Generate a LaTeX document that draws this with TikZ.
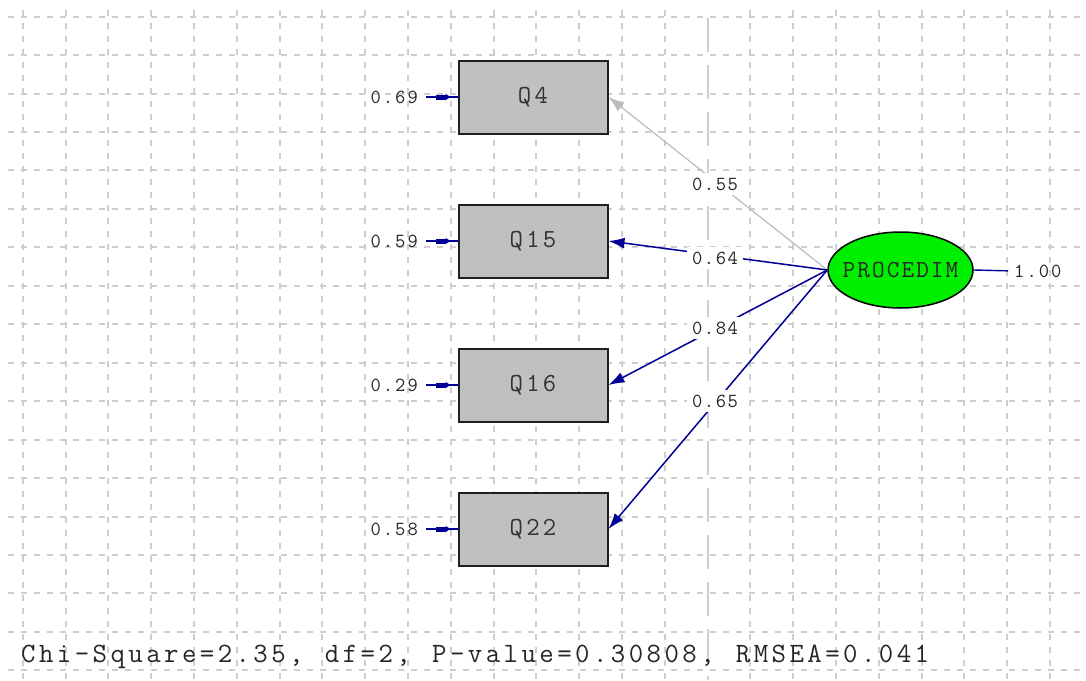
\documentclass[tikz,border=0pt]{standalone}
\usepackage{fontspec}
\usetikzlibrary{shapes.geometric,arrows.meta}
\definecolor{gridc}{RGB}{206,206,206}
\definecolor{boxfill}{RGB}{192,192,192}
\definecolor{navyc}{RGB}{0,0,150}
\definecolor{lgray}{RGB}{188,188,188}
\definecolor{latgreen}{RGB}{0,238,0}
\newcommand{\monosz}[1]{\ttfamily\fontsize{#1}{#1}\selectfont}
% letter-spaced text: kern between characters (use ~ for spaces)
\newdimen\lskern
\def\lsend{\lsend}
\def\lstext#1#2{\lskern=#1\relax\lsfirst#2\lsend}
\def\lsfirst#1{#1\lsloop}
\def\lsloop#1{\ifx\lsend#1\else\kern\lskern#1\expandafter\lsloop\fi}
\begin{document}
\begin{tikzpicture}[x=1pt,y=-1pt,
  gridline/.style={draw=gridc, line width=2pt, dash pattern=on 6pt off 7pt},
  centerline/.style={draw=gridc, line width=2pt, dash pattern=on 34pt off 13pt},
  obs/.style={draw=black!88, line width=2pt, fill=boxfill, minimum width=149pt, minimum height=73pt, inner sep=0pt, font=\monosz{26}, text=black!80},
  lat/.style={ellipse, draw=black, line width=1.5pt, fill=latgreen, minimum width=145pt, minimum height=76pt, inner xsep=-9pt, inner ysep=0pt, font=\monosz{24.5}, text=black!85},
  lab/.style={inner sep=0pt, font=\monosz{20}, text=black!85},
  loadlab/.style={lab, fill=white, inner sep=5pt},
  load/.style={draw=navyc, line width=1.5pt, -{Latex[length=16pt,width=11pt]}},
  loadgray/.style={draw=lgray, line width=1.2pt, -{Latex[length=16pt,width=11pt]}},
  errline/.style={draw=navyc, line width=1.4pt, shorten <=8pt},
  errhead/.style={draw=navyc, line width=5pt, shorten <=18pt, shorten >=7pt, -{Triangle[length=5pt,width=6pt]}},
  fitlab/.style={inner sep=0pt, anchor=base west, font=\monosz{28}, text=black!85}
]
\useasboundingbox (0,0) rectangle (1086,680);
\fill[white] (0,0) rectangle (1086,680);
% grid
\foreach \j in {0,...,17} \draw[gridline] (8,{round(16.7+38.45*\j)}) -- (1086,{round(16.7+38.45*\j)});
\foreach \k in {0,...,24} {\ifnum\k=16\relax\else\draw[gridline] ({round(22.7+42.8*\k)},10) -- ({round(22.7+42.8*\k)},680);\fi}
\draw[centerline] (708,18) -- (708,680);
% observed variables
\node[obs] (Q4)  at (533,97)  {\lstext{3.3pt}{Q4}};
\node[obs] (Q15) at (533,241) {\lstext{3.3pt}{Q15}};
\node[obs] (Q16) at (533,385) {\lstext{3.3pt}{Q16}};
\node[obs] (Q22) at (533,529) {\lstext{3.3pt}{Q22}};
% latent
\node[lat] (P) at (900.5,270) {\lstext{2.1pt}{PROCEDIM}};
% loadings
\draw[loadgray] (P.west) -- (Q4.east);
\draw[load] (P.west) -- (Q15.east);
\draw[load] (P.west) -- (Q16.east);
\draw[load] (P.west) -- (Q22.east);
\node[loadlab] (l4)  at (715,184) {\lstext{1.6pt}{0.55}};
\node[loadlab] (l15) at (715,258) {\lstext{1.6pt}{0.64}};
\node[loadlab] (l16) at (715,328) {\lstext{1.6pt}{0.84}};
\node[loadlab] (l22) at (715,401) {\lstext{1.6pt}{0.65}};
% error variances
\node[lab, anchor=east] (e4)  at (418,97)  {\lstext{2pt}{0.69}};
\node[lab, anchor=east] (e15) at (418,241) {\lstext{2pt}{0.59}};
\node[lab, anchor=east] (e16) at (418,385) {\lstext{2pt}{0.29}};
\node[lab, anchor=east] (e22) at (418,529) {\lstext{2pt}{0.58}};
\foreach \e/\q in {e4/Q4,e15/Q15,e16/Q16,e22/Q22}{
  \draw[errline] (\e.east) -- (\q.west);
  \draw[errhead] (\e.east) -- (\q.west);
}
% latent variance
\node[lab, anchor=west] (r) at (1014,271) {\lstext{2pt}{1.00}};
\draw[draw=navyc, line width=1.4pt, shorten >=6pt] (P.east) -- (r.west);
% fit statistics
\node[fitlab] (fit) at (21,662) {\lstext{3.45pt}{Chi-Square=2.35,~df=2,~P-value=0.30808,~RMSEA=0.041}};
\end{tikzpicture}
\end{document}
